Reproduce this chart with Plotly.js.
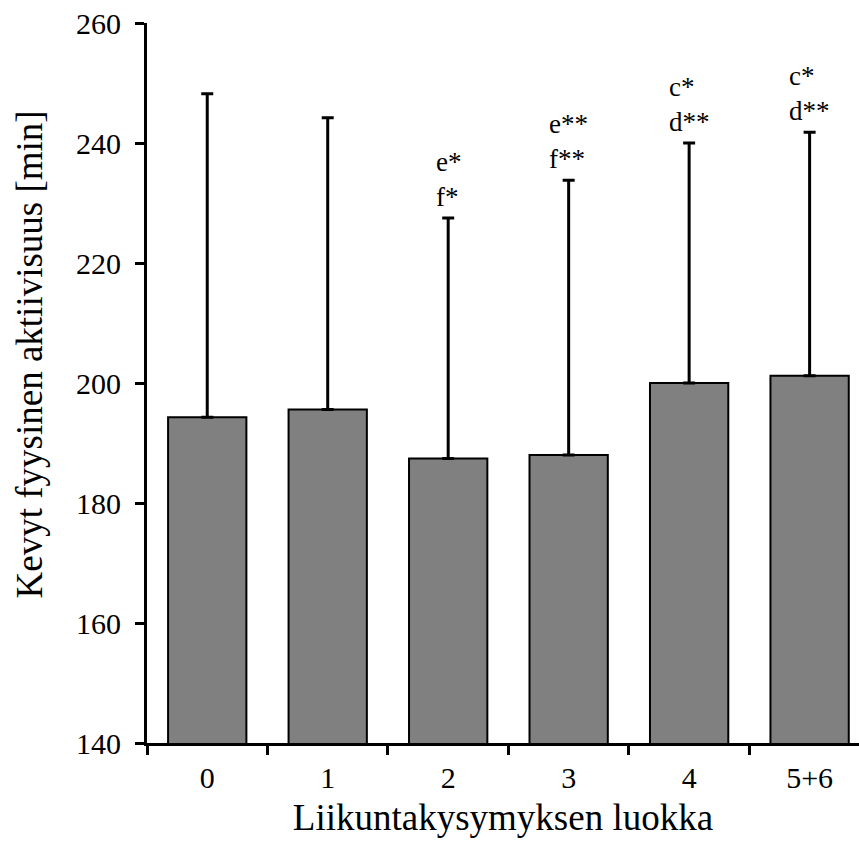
<!DOCTYPE html>
<html>
<head>
<meta charset="utf-8">
<script src="https://cdn.plot.ly/plotly-3.0.1.min.js"></script>
<style>html,body{margin:0;padding:0;background:#fff;}#chart{width:859px;height:845px;}</style>
</head>
<body>
<div id="chart"></div>
<script>
const categories = ['0', '1', '2', '3', '4', '5+6'];
const means = [194.3, 195.6, 187.4, 188.0, 200.0, 201.2];
const sds = [53.9, 48.6, 40.1, 45.8, 40.0, 40.6];
const sigLine1 = ['', '', 'e*', 'e**', 'c*', 'c*'];
const sigLine2 = ['', '', 'f*', 'f**', 'd**', 'd**'];
const yTitle = 'Kevyt fyysinen aktiivisuus [min]';
const xTitle = 'Liikuntakysymyksen luokka';

const FONT = 'Liberation Serif';

const trace = {
  type: 'bar',
  x: categories,
  y: means,
  width: 0.65,
  marker: {color: '#808080', line: {color: '#000', width: 2}},
  error_y: {
    type: 'data', symmetric: false,
    array: sds, arrayminus: sds.map(() => 0),
    color: '#000', thickness: 3, width: 6
  },
  hoverinfo: 'none'
};

const annotations = [];
categories.forEach((c, i) => {
  if (!sigLine1[i]) return;
  annotations.push({
    x: c, y: means[i] + sds[i], xref: 'x', yref: 'y',
    text: sigLine1[i] + '<br>' + sigLine2[i],
    showarrow: false, align: 'left', xanchor: 'center', yanchor: 'bottom', yshift: 4,
    font: {family: FONT, size: 27, color: '#000'}
  });
});

annotations.push({
  xref: 'paper', yref: 'paper', x: -0.165, y: 0.539,
  xanchor: 'center', yanchor: 'middle', textangle: -90,
  text: yTitle, showarrow: false,
  font: {family: FONT, size: 37, color: '#000'}
});

const layout = {
  width: 859, height: 845,
  margin: {l: 147, r: 0, t: 23, b: 102, pad: 0},
  paper_bgcolor: '#fff', plot_bgcolor: '#fff',
  showlegend: false,
  font: {family: FONT, color: '#000'},
  xaxis: {
    type: 'category', range: [-0.5, 5.41],
    showline: true, linewidth: 3, linecolor: '#000',
    ticks: 'outside', tickson: 'boundaries', ticklen: 9, tickwidth: 3, tickcolor: '#000',
    ticklabelstandoff: 6,
    showgrid: false, zeroline: false,
    tickfont: {family: FONT, size: 30, color: '#000'},
    title: {text: xTitle, font: {family: FONT, size: 37, color: '#000'}, standoff: 12}
  },
  yaxis: {
    range: [140, 260], dtick: 20, tick0: 140,
    showline: true, linewidth: 3, linecolor: '#000',
    ticks: 'outside', ticklen: 9, tickwidth: 3, tickcolor: '#000',
    ticklabelstandoff: 8,
    showgrid: false, zeroline: false,
    tickfont: {family: FONT, size: 30, color: '#000'}
  },
  annotations: annotations
};

Plotly.newPlot('chart', [trace], layout, {displayModeBar: false, staticPlot: true});
</script>
</body>
</html>
